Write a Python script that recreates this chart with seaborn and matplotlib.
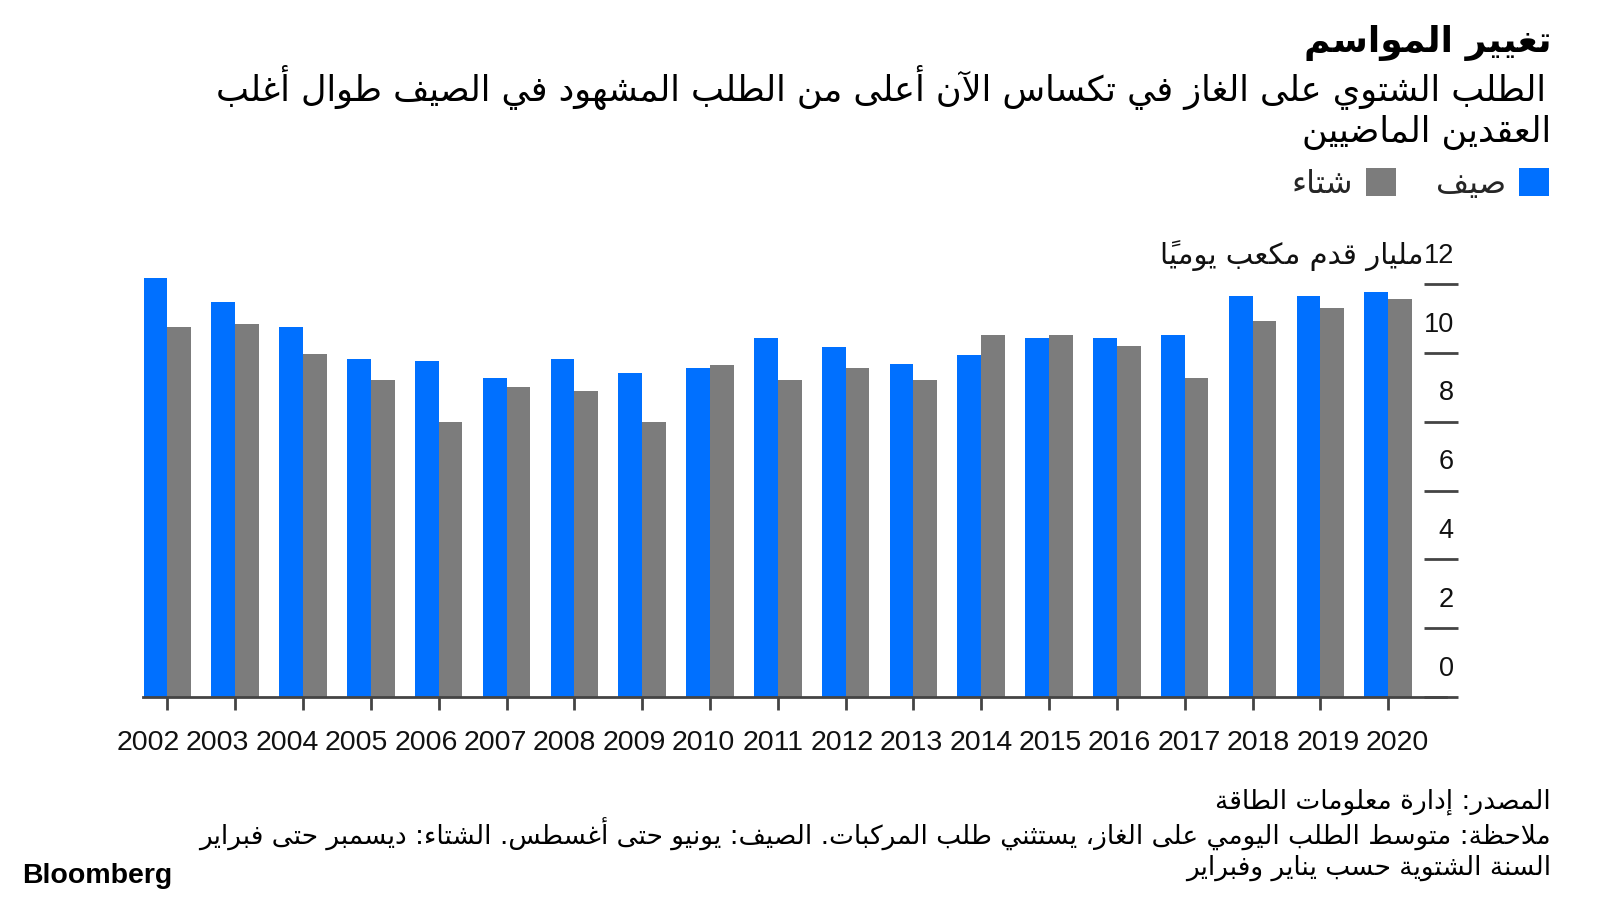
import numpy as np
import pandas as pd
import matplotlib
matplotlib.use("Agg")
import matplotlib.pyplot as plt
import matplotlib.transforms as mtransforms
from matplotlib.patches import Patch
import seaborn as sns

# ---------------- data ----------------
years = [str(y) for y in range(2002, 2021)]
summer = [12.18, 11.47, 10.76, 9.84, 9.78, 9.27, 9.84, 9.42, 9.57, 10.43,
          10.16, 9.69, 9.93, 10.43, 10.43, 10.52, 11.67, 11.67, 11.76]
winter = [10.76, 10.84, 9.96, 9.21, 8.00, 9.01, 8.89, 8.00, 9.66, 9.21,
          9.57, 9.21, 10.52, 10.52, 10.19, 9.27, 10.93, 11.32, 11.56]
season_names = ["صيف", "شتاء"]
yticks = [0, 2, 4, 6, 8, 10, 12]
ytick_labels = ["0", "2", "4", "6", "8", "10", "12"]

title = "تغيير المواسم"
subtitle = ["الطلب الشتوي على الغاز في تكساس الآن أعلى من الطلب المشهود في الصيف طوال أغلب",
            "العقدين الماضيين"]
unit = "مليار قدم مكعب يومياً"
source = "المصدر: إدارة معلومات الطاقة"
notes = ["ملاحظة: متوسط الطلب اليومي على الغاز، يستثني طلب المركبات. الصيف: يونيو حتى أغسطس. الشتاء: ديسمبر حتى فبراير",
         "السنة الشتوية حسب يناير وفبراير"]

# ---------------- minimal Arabic shaping ----------------
TWO = {'\u0622': 0xFE81, '\u0623': 0xFE83, '\u0624': 0xFE85, '\u0625': 0xFE87,
       '\u0627': 0xFE8D, '\u0629': 0xFE93, '\u062F': 0xFEA9, '\u0630': 0xFEAB,
       '\u0631': 0xFEAD, '\u0632': 0xFEAF, '\u0648': 0xFEED, '\u0649': 0xFEEF}
FOUR = {'\u0626': 0xFE89, '\u0628': 0xFE8F, '\u062A': 0xFE95, '\u062B': 0xFE99,
        '\u062C': 0xFE9D, '\u062D': 0xFEA1, '\u062E': 0xFEA5, '\u0633': 0xFEB1,
        '\u0634': 0xFEB5, '\u0635': 0xFEB9, '\u0636': 0xFEBD, '\u0637': 0xFEC1,
        '\u0638': 0xFEC5, '\u0639': 0xFEC9, '\u063A': 0xFECD, '\u0641': 0xFED1,
        '\u0642': 0xFED5, '\u0643': 0xFED9, '\u0644': 0xFEDD, '\u0645': 0xFEE1,
        '\u0646': 0xFEE5, '\u0647': 0xFEE9, '\u064A': 0xFEF1}
LAMALEF = {'\u0622': 0xFEF5, '\u0623': 0xFEF7, '\u0625': 0xFEF9, '\u0627': 0xFEFB}


def is_mark(c):
    return '\u064B' <= c <= '\u065F' or c == '\u0670'


def jtype(c):
    if c in FOUR:
        return 'D'
    if c in TWO:
        return 'R'
    if is_mark(c):
        return 'T'
    return 'U'


def shape(s):
    ch = list(s)
    n = len(ch)
    out = []
    skip = set()

    def prev_base(k):
        k -= 1
        while k >= 0 and is_mark(ch[k]):
            k -= 1
        return ch[k] if k >= 0 else None

    def next_base(k):
        k += 1
        while k < n and is_mark(ch[k]):
            k += 1
        return (ch[k], k) if k < n else (None, None)

    for i, c in enumerate(ch):
        if i in skip:
            continue
        t = jtype(c)
        if t in ('T', 'U'):
            out.append(c)
            continue
        p = prev_base(i)
        jp = p is not None and jtype(p) == 'D' and (i - 1) not in skip
        nb, nk = next_base(i)
        if c == '\u0644' and nb in LAMALEF:
            out.append(chr(LAMALEF[nb] + (1 if jp else 0)))
            for k in range(i + 1, nk):
                out.append(ch[k])
            skip.update(range(i + 1, nk + 1))
            continue
        jn = t == 'D' and nb is not None and jtype(nb) in ('D', 'R')
        base = FOUR[c] if t == 'D' else TWO[c]
        if jp and jn:
            idx = 3
        elif jp:
            idx = 1
        elif jn:
            idx = 2
        else:
            idx = 0
        out.append(chr(base + idx))
    return out


def ar(s):
    glyphs = shape(s)
    clusters = []
    for g in glyphs:
        if is_mark(g) and clusters:
            clusters[-1] += g
        else:
            clusters.append(g)
    return "".join(reversed(clusters))


# ---------------- figure ----------------
sns.set_theme(style="white")
AR_FONT = ["DejaVu Sans"]
NUM_FONT = ["Liberation Sans", "DejaVu Sans"]
plt.rcParams["font.family"] = NUM_FONT

BLUE = "#0070FF"
GRAY = "#7C7C7C"
AXC = "#444444"

fig = plt.figure(figsize=(16, 9), dpi=100)
W, H = 1600, 900

ymax = 12.4
px_per_unit = 34.4
ax_bottom = 697
ax_top = ax_bottom - ymax * px_per_unit
ax = fig.add_axes([143 / W, 1 - ax_bottom / H, (1458 - 143) / W, (ax_bottom - ax_top) / H])

df = pd.DataFrame({
    "year": years * 2,
    "value": summer + winter,
    "season": [season_names[0]] * len(years) + [season_names[1]] * len(years),
})
sns.barplot(data=df, x="year", y="value", hue="season",
            hue_order=season_names, palette=[BLUE, GRAY],
            width=0.7, gap=0, saturation=1, legend=False, ax=ax, errorbar=None,
            linewidth=0, edgecolor="none")

ax.set_xlim(-0.36, 19.03)
ax.set_ylim(0, ymax)
ax.set_xlabel("")
ax.set_ylabel("")
for s in ["top", "left", "right"]:
    ax.spines[s].set_visible(False)
ax.spines["bottom"].set_color(AXC)
ax.spines["bottom"].set_linewidth(2)
ax.spines["bottom"].set_bounds(-0.36, 18.85)

# x ticks
ax.tick_params(axis="x", bottom=True, length=9, width=2, color=AXC,
               labelsize=20.5, pad=15, labelcolor="#111111")
ax.set_xticks(range(len(years)))
ax.set_xticklabels(years)
for i, lab in enumerate(ax.get_xticklabels()):
    dx = (-19 + i * 28 / 18) / 100.0
    lab.set_transform(lab.get_transform() + mtransforms.ScaledTranslation(dx, 0, fig.dpi_scale_trans))

# y ticks on right, drawn inward, labels as annotations above each tick
ax.yaxis.tick_right()
ax.set_yticks(yticks)
ax.tick_params(axis="y", right=True, left=False, direction="in", length=24.5,
               width=2, color=AXC, labelright=False, labelleft=False)
for v, lab in zip(yticks, ytick_labels):
    t = ax.annotate(lab, xy=(1, v), xycoords=("axes fraction", "data"),
                    xytext=(-3, 20.5), textcoords="offset points",
                    ha="right", va="center", fontsize=19.5, family=NUM_FONT, color="#111111")
    if v == yticks[-1]:
        ax.annotate(ar(unit), xy=(0, 0.5), xycoords=t, xytext=(0, 0),
                    textcoords="offset points", ha="right", va="center",
                    fontsize=21, family=AR_FONT, color="#111111")

# ---------------- texts ----------------
RX = 1551 / W
fig.text(RX, 1 - 43 / H, ar(title), ha="right", va="center", fontsize=26,
         fontweight="bold", family=AR_FONT, color="#000000")
fig.text(RX - 0.003, 1 - 88 / H, ar(subtitle[0]), ha="right", va="center", fontsize=25.2,
         family=AR_FONT, color="#000000")
fig.text(RX, 1 - 132 / H, ar(subtitle[1]), ha="right", va="center", fontsize=25.2,
         family=AR_FONT, color="#000000")

# legend (RTL: text then swatch)
handles = [Patch(facecolor=GRAY, edgecolor="none"), Patch(facecolor=BLUE, edgecolor="none")]
labels = [ar(season_names[1]), ar(season_names[0])]
leg = fig.legend(handles, labels, loc="center right", bbox_to_anchor=(RX + 0.017, 1 - 184 / H),
                 ncol=2, markerfirst=False, frameon=False,
                 handlelength=0.95, handleheight=0.95, handletextpad=0.4,
                 columnspacing=1.25, prop={"family": AR_FONT, "size": 23})

fig.text(RX, 1 - 802 / H, ar(source), ha="right", va="center", fontsize=19,
         family=AR_FONT, color="#000000")
fig.text(RX, 1 - 834 / H, ar(notes[0]), ha="right", va="center", fontsize=19,
         family=AR_FONT, color="#000000")
fig.text(RX, 1 - 868 / H, ar(notes[1]), ha="right", va="center", fontsize=19,
         family=AR_FONT, color="#000000")

fig.text(22 / W, 1 - 876 / H, "Bloomberg", ha="left", va="center", fontsize=20.5,
         fontweight="bold", family=["Liberation Sans"], color="#000000")

fig.savefig("out.png", dpi=100, facecolor="white")
